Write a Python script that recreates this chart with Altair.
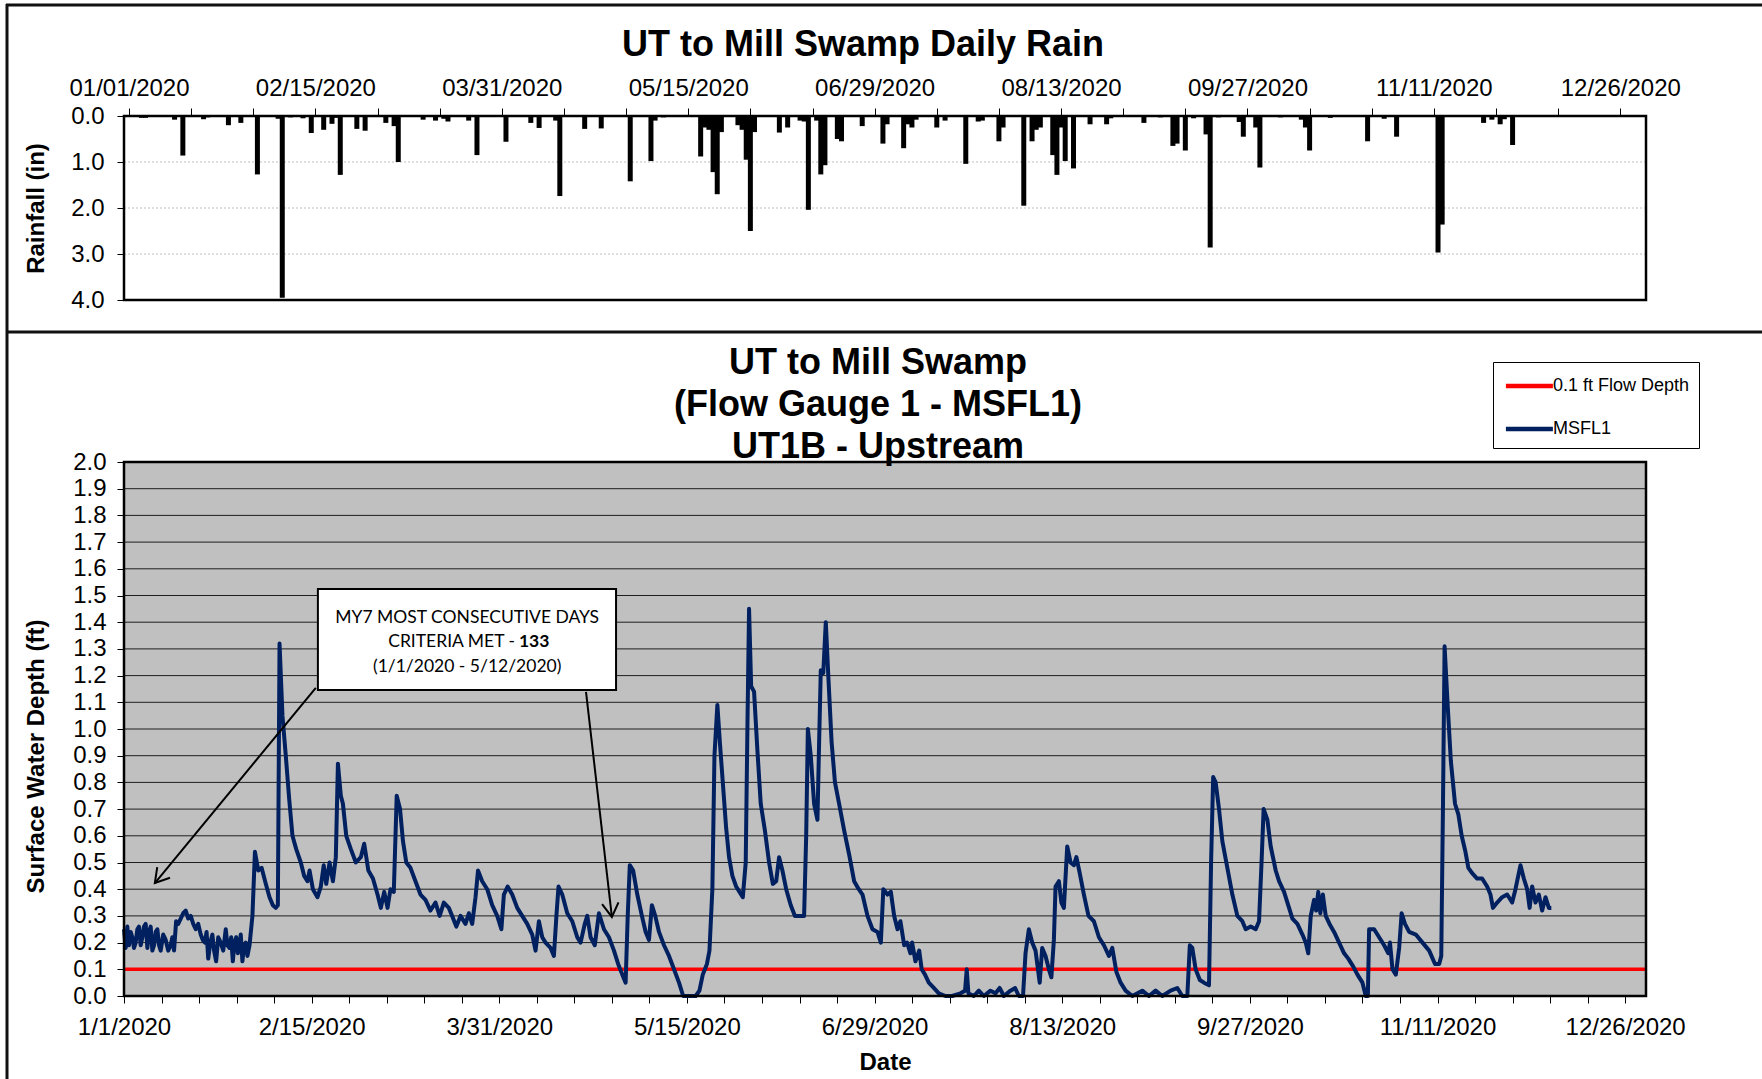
import altair as alt
import pandas as pd

# ---------------------------------------------------------------------------
# Data (x = day of 2020, 0 = Jan 1)
# ---------------------------------------------------------------------------
rain_day = [3, 4, 7, 11, 13, 18, 19, 24, 27, 31, 36, 37, 39, 42, 44, 47, 49, 50,
            51, 55, 57, 62, 64, 65, 71, 74, 76, 77, 82, 84, 91, 97, 99, 103, 104,
            110, 114, 121, 126, 127, 129, 138, 139, 140, 141, 142, 143, 147, 148,
            149, 150, 151, 157, 159, 162, 163, 164, 166, 167, 168, 171, 172, 177,
            182, 183, 187, 188, 189, 190, 195, 197, 202, 205, 206, 210, 211, 216,
            218, 219, 220, 223, 224, 225, 226, 228, 232, 236, 237, 245, 249, 252,
            253, 255, 257, 260, 261, 263, 268, 269, 272, 273, 278, 283, 284, 285,
            290, 299, 303, 306, 316, 317, 327, 329, 331, 332, 334]
rain_in = [0.04, 0.04, 0.02, 0.08, 0.86, 0.07, 0.03, 0.20, 0.15, 1.27, 0.06, 3.95,
           0.03, 0.05, 0.37, 0.30, 0.17, 0.04, 1.28, 0.28, 0.32, 0.15, 0.22, 1.00,
           0.08, 0.10, 0.06, 0.12, 0.10, 0.85, 0.56, 0.15, 0.26, 0.10, 1.74, 0.28,
           0.27, 1.42, 0.98, 0.10, 0.03, 0.88, 0.25, 0.30, 1.22, 1.70, 0.35, 0.20,
           0.30, 0.95, 2.50, 0.35, 0.36, 0.25, 0.10, 0.12, 2.04, 0.10, 1.27, 1.07,
           0.50, 0.55, 0.22, 0.60, 0.18, 0.70, 0.18, 0.25, 0.08, 0.25, 0.10, 1.04,
           0.12, 0.10, 0.55, 0.25, 1.95, 0.55, 0.30, 0.25, 0.85, 1.28, 0.25, 0.98,
           1.14, 0.18, 0.18, 0.05, 0.15, 0.03, 0.65, 0.60, 0.75, 0.05, 0.40, 2.86,
           0.03, 0.13, 0.45, 0.25, 1.12, 0.03, 0.08, 0.25, 0.75, 0.04, 0.55, 0.06,
           0.45, 2.97, 2.36, 0.15, 0.08, 0.18, 0.07, 0.63]

# MSFL1 surface water depth (ft)
depth_day = [
    # January - March
    0.0, 0.4, 0.8, 1.2, 1.6, 2.0, 2.4, 2.8, 3.2, 3.6, 4.0, 4.4, 4.8, 5.2, 5.6,
    6.0, 6.4, 6.8, 7.2, 7.6, 8.0, 8.4, 8.8, 9.4, 10.0, 10.6, 11.2, 11.6, 12.0,
    12.5, 13.0, 13.6, 14.2, 14.8, 15.4, 16.0, 16.6, 17.2, 17.8, 18.4, 18.9, 19.4,
    19.8, 20.2, 20.7, 21.2, 21.6, 22.1, 22.6, 23.2, 23.8, 24.4, 24.8, 25.3, 25.7,
    26.1, 26.5, 26.9, 27.3, 27.7, 28.0, 28.4, 28.8, 29.2, 29.6, 30.1, 30.8, 31.4,
    32.2, 33.0, 34.0, 34.9, 35.7, 36.4, 36.9, 37.3, 38.0, 38.8, 39.6, 40.4, 41.3,
    42.4, 43.2, 44.0, 44.5, 45.3, 46.4, 47.2, 47.9, 48.5, 49.3, 50.1, 50.8, 51.3,
    52.0, 52.5, 53.3, 54.4, 55.6, 56.8, 57.6, 58.6, 59.7, 60.8, 61.6, 62.4, 63.2,
    63.9, 64.7, 65.4, 66.2, 66.9, 67.7, 68.7, 69.9, 71.1, 72.3, 73.5, 74.7, 75.7,
    76.7, 77.9, 78.7, 79.7, 80.7, 81.9, 82.7, 83.5, 84.3, 84.9, 85.9, 87.1, 88.3,
    89.5, 90.5,
    # April - June
    91.1, 92.0, 93.1, 94.3, 95.5, 96.7, 97.9, 98.7, 99.5, 100.3, 101.1, 102.3,
    103.1, 103.7, 104.2, 105.1, 106.3, 107.5, 108.7, 109.5, 110.5, 111.1, 111.9,
    112.9, 113.9, 115.1, 116.3, 117.5, 118.5, 119.5, 120.3, 120.8, 121.3, 122.1,
    123.1, 124.2, 125.1, 125.9, 126.6, 127.4, 128.3, 129.5, 130.7, 131.9, 133.1,
    134.1, 135.5, 137.1, 138.0, 138.8, 139.8, 140.4, 141.1, 141.6, 142.3, 142.9,
    143.6, 144.4, 145.1, 145.9, 146.8, 147.6, 148.4, 149.1, 149.5, 149.9, 150.4,
    151.1, 151.9, 152.7, 153.7, 154.7, 155.6, 156.4, 157.1, 157.9, 158.8, 159.9,
    160.9, 161.9, 163.1, 163.6, 164.0, 164.7, 165.5, 166.3, 166.7, 167.1, 167.7,
    168.3, 168.9, 169.7, 170.5, 171.5, 172.7, 173.9, 175.1, 176.2, 177.1, 178.3,
    179.5, 180.7, 181.5,
    # July - September
    182.1, 183.1, 183.9, 184.7, 185.5, 186.2, 187.1, 187.8, 188.6, 189.0, 189.8,
    190.7, 191.3, 192.1, 193.0, 194.2, 195.4, 197.0, 198.6, 200.6, 201.7, 202.1,
    202.5, 203.8, 205.0, 206.2, 207.8, 209.0, 210.0, 211.0, 212.6, 213.7, 214.6,
    215.6, 216.2, 217.0, 217.8, 218.6, 219.6, 220.2, 221.0, 221.8, 222.4, 223.0,
    223.4, 224.2, 224.8, 225.4, 226.2, 227.0, 227.8, 228.4, 229.2, 230.2, 231.3,
    232.6, 233.8, 235.0, 236.2, 237.0, 238.0, 239.0, 240.2, 241.8, 244.2, 245.8,
    247.4, 249.0, 251.0, 252.6, 253.8, 255.0, 255.6, 256.2, 257.0, 258.0, 259.0,
    260.2, 260.7, 261.2, 261.8, 262.6, 263.4, 264.6, 265.8, 267.0, 268.2, 269.0,
    270.2, 271.4, 272.2, 272.8, 273.3,
    # October - December
    274.2, 275.0, 276.2, 277.0, 278.2, 279.4, 280.2, 281.4, 282.6, 283.4, 284.0,
    284.6, 285.4, 285.9, 286.4, 286.9, 287.5, 288.2, 289.1, 290.2, 291.4, 292.6,
    293.6, 294.8, 295.8, 297.0, 297.8, 298.3, 298.6, 299.8, 301.0, 302.2, 303.2,
    303.6, 304.2, 305.0, 305.8, 306.4, 307.2, 308.2, 309.8, 311.4, 313.0, 314.4,
    315.4, 315.9, 316.3, 316.7, 317.4, 318.2, 319.2, 320.0, 320.8, 321.7, 322.4,
    323.3, 324.5, 325.7, 326.9, 327.7, 328.3, 329.3, 330.5, 331.7, 332.9, 333.7,
    334.9, 335.7, 336.5, 337.1, 337.7, 338.5, 339.3, 340.1, 340.9, 341.7, 342.3,
]
depth_ft = [
    # January - March
    0.25, 0.18, 0.26, 0.19, 0.24, 0.22, 0.18, 0.20, 0.25, 0.26, 0.19, 0.22, 0.26,
    0.27, 0.18, 0.24, 0.26, 0.17, 0.19, 0.24, 0.25, 0.19, 0.17, 0.23, 0.21, 0.17,
    0.19, 0.22, 0.17, 0.28, 0.27, 0.29, 0.31, 0.32, 0.29, 0.30, 0.27, 0.25, 0.27,
    0.23, 0.21, 0.20, 0.24, 0.14, 0.20, 0.23, 0.17, 0.13, 0.22, 0.20, 0.17, 0.25,
    0.19, 0.18, 0.22, 0.13, 0.20, 0.22, 0.16, 0.19, 0.23, 0.13, 0.19, 0.20, 0.15,
    0.19, 0.30, 0.54, 0.47, 0.48, 0.42, 0.37, 0.34, 0.33, 0.34, 1.32, 1.05, 0.90,
    0.74, 0.60, 0.55, 0.50, 0.45, 0.43, 0.47, 0.40, 0.37, 0.41, 0.49, 0.42, 0.50,
    0.43, 0.52, 0.87, 0.75, 0.72, 0.60, 0.55, 0.50, 0.52, 0.57, 0.47, 0.44, 0.38,
    0.33, 0.39, 0.33, 0.40, 0.39, 0.75, 0.70, 0.58, 0.50, 0.48, 0.43, 0.38, 0.36,
    0.32, 0.35, 0.30, 0.35, 0.33, 0.30, 0.26, 0.30, 0.27, 0.31, 0.27, 0.37, 0.47,
    0.43, 0.40, 0.34, 0.30, 0.25,
    # April - June
    0.38, 0.41, 0.38, 0.33, 0.30, 0.27, 0.23, 0.17, 0.28, 0.22, 0.20, 0.18, 0.15,
    0.30, 0.41, 0.38, 0.31, 0.28, 0.22, 0.20, 0.27, 0.30, 0.22, 0.19, 0.31, 0.25,
    0.22, 0.17, 0.12, 0.08, 0.05, 0.30, 0.49, 0.47, 0.38, 0.30, 0.24, 0.21, 0.34,
    0.30, 0.24, 0.19, 0.15, 0.10, 0.05, 0.00, 0.00, 0.00, 0.02, 0.08, 0.12, 0.17,
    0.40, 0.90, 1.09, 0.95, 0.80, 0.63, 0.52, 0.45, 0.41, 0.39, 0.37, 0.50, 1.00,
    1.45, 1.16, 1.14, 0.92, 0.72, 0.62, 0.50, 0.42, 0.43, 0.52, 0.47, 0.40, 0.34,
    0.30, 0.30, 0.30, 0.60, 1.00, 0.90, 0.72, 0.66, 0.95, 1.22, 1.21, 1.40, 1.20,
    0.95, 0.80, 0.72, 0.62, 0.53, 0.43, 0.40, 0.38, 0.30, 0.25, 0.24, 0.20,
    # July - September
    0.40, 0.38, 0.39, 0.30, 0.25, 0.28, 0.19, 0.20, 0.16, 0.20, 0.13, 0.17, 0.10,
    0.08, 0.05, 0.03, 0.01, 0.00, 0.00, 0.01, 0.02, 0.10, 0.01, 0.00, 0.02, 0.00,
    0.02, 0.01, 0.03, 0.00, 0.02, 0.03, 0.00, 0.00, 0.16, 0.25, 0.20, 0.17, 0.05,
    0.18, 0.15, 0.10, 0.07, 0.21, 0.41, 0.43, 0.35, 0.33, 0.56, 0.50, 0.49, 0.52,
    0.46, 0.38, 0.30, 0.28, 0.22, 0.19, 0.15, 0.18, 0.09, 0.05, 0.02, 0.00, 0.02,
    0.00, 0.02, 0.00, 0.02, 0.03, 0.00, 0.00, 0.19, 0.18, 0.10, 0.06, 0.05, 0.04,
    0.50, 0.82, 0.80, 0.70, 0.58, 0.48, 0.38, 0.30, 0.28, 0.25, 0.26, 0.25, 0.28,
    0.50, 0.70,
    # October - December
    0.66, 0.56, 0.47, 0.43, 0.39, 0.33, 0.29, 0.27, 0.23, 0.20, 0.16, 0.30, 0.36,
    0.32, 0.39, 0.31, 0.38, 0.30, 0.27, 0.24, 0.20, 0.16, 0.14, 0.11, 0.08, 0.05,
    0.00, 0.00, 0.25, 0.25, 0.22, 0.19, 0.16, 0.20, 0.10, 0.08, 0.18, 0.31, 0.27,
    0.24, 0.23, 0.20, 0.17, 0.12, 0.12, 0.15, 0.70, 1.31, 1.10, 0.88, 0.72, 0.68,
    0.60, 0.54, 0.48, 0.46, 0.44, 0.44, 0.41, 0.38, 0.33, 0.35, 0.37, 0.38, 0.35,
    0.40, 0.49, 0.44, 0.40, 0.33, 0.41, 0.35, 0.38, 0.32, 0.37, 0.33, 0.33,
]

flow_threshold_ft = 0.1
series_names = ["0.1 ft Flow Depth", "MSFL1"]
series_colors = ["#FF0000", "#002060"]

x_domain = [0, 365]
rain_domain = [0, 4]
depth_domain = [0, 2]
rain_axis_values = [0, 1, 2, 3, 4]
rain_grid_values = [1, 2, 3]
depth_axis_values = [0.0, 0.1, 0.2, 0.3, 0.4, 0.5, 0.6, 0.7, 0.8, 0.9, 1.0,
                     1.1, 1.2, 1.3, 1.4, 1.5, 1.6, 1.7, 1.8, 1.9, 2.0]
depth_grid_values = depth_axis_values[1:-1]
top_tick_days = list(range(0, 361, 15))
bottom_tick_days = list(range(0, 361, 9))

rain_title = "UT to Mill Swamp Daily Rain"
depth_title = ["UT to Mill Swamp", "(Flow Gauge 1 - MSFL1)", "UT1B - Upstream"]
note_lines = ["MY7 MOST CONSECUTIVE DAYS", "CRITERIA MET - ", "133", "(1/1/2020 - 5/12/2020)"]

# ---------------------------------------------------------------------------
# Layout
# ---------------------------------------------------------------------------
W, H = 1522, 880
RAIN_H = 184
DEPTH_TOP = 346
FONT = "Liberation Sans"

x_scale = alt.Scale(domain=x_domain, nice=False, zero=False)
rain_y = alt.Scale(domain=rain_domain, range=[0, RAIN_H], nice=False, zero=False)
depth_y = alt.Scale(domain=depth_domain, range=[H, DEPTH_TOP], nice=False, zero=False)


def date_label(fmt):
    return ("datum.value % 45 == 0 ? timeFormat(datetime(2020, 0, 1 + datum.value), '"
            + fmt + "') : ''")


X_NONE = dict(scale=x_scale, axis=None)

# ---- rainfall panel -------------------------------------------------------
rain_df = pd.DataFrame({"day": rain_day, "rain": rain_in, "base": 0.0})
frame_rain = pd.DataFrame({"x0": [x_domain[0]], "x1": [x_domain[1]],
                           "y0": [rain_domain[0]], "y1": [rain_domain[1]]})
rain_grid_df = pd.DataFrame({"v": rain_grid_values, "x0": x_domain[0], "x1": x_domain[1]})

rain_grid = alt.Chart(rain_grid_df).mark_rule(
    color="#BDBDBD", strokeWidth=1, strokeDash=[2, 2]
).encode(
    x=alt.X("x0:Q", **X_NONE), x2="x1:Q",
    y=alt.Y("v:Q", scale=rain_y, axis=None),
)

rain_bars = alt.Chart(rain_df).mark_bar(color="black", size=5).encode(
    x=alt.X("day:Q", scale=x_scale, axis=alt.Axis(
        orient="top", values=top_tick_days, labelExpr=date_label("%m/%d/%Y"),
        tickSize=8, tickColor="black", labelPadding=8, labelFontSize=24,
        labelOverlap=False, labelFlush=False, domain=False, grid=False, title=None)),
    y=alt.Y("rain:Q", scale=rain_y, axis=alt.Axis(
        orient="left", values=rain_axis_values, format=".1f", tickSize=7,
        tickColor="black", labelPadding=13, labelFontSize=24, labelOverlap=False,
        domain=False, grid=False, title="Rainfall (in)", titleFontSize=24,
        titleFontWeight="bold", titleX=-88, titleY=92, titleAngle=270,
        titleAlign="center", titleBaseline="middle")),
    y2="base:Q",
)

rain_box = alt.Chart(frame_rain).mark_rect(
    fillOpacity=0, stroke="black", strokeWidth=2.5
).encode(
    x=alt.X("x0:Q", **X_NONE), x2="x1:Q",
    y=alt.Y("y0:Q", scale=rain_y, axis=None), y2="y1:Q",
)

# ---- depth panel ----------------------------------------------------------
frame_depth = pd.DataFrame({"x0": [x_domain[0]], "x1": [x_domain[1]],
                            "y0": [depth_domain[0]], "y1": [depth_domain[1]]})
depth_grid_df = pd.DataFrame({"v": depth_grid_values, "x0": x_domain[0], "x1": x_domain[1]})

depth_bg = alt.Chart(frame_depth).mark_rect(color="#C0C0C0").encode(
    x=alt.X("x0:Q", **X_NONE), x2="x1:Q",
    y=alt.Y("y0:Q", scale=depth_y, axis=None), y2="y1:Q",
)

depth_grid = alt.Chart(depth_grid_df).mark_rule(color="#1E1E1E", strokeWidth=1).encode(
    x=alt.X("x0:Q", **X_NONE), x2="x1:Q",
    y=alt.Y("v:Q", scale=depth_y, axis=None),
)

# legend swatch: a horizontal stroke twice as long as the symbol box
color_enc = alt.Color("series:N", scale=alt.Scale(domain=series_names, range=series_colors),
                      legend=alt.Legend(
                          title=None, orient="none", legendX=1369, legendY=246,
                          direction="vertical", symbolType="M-2,0H2", symbolSize=552,
                          symbolStrokeWidth=4.5, symbolOffset=12.4, labelOffset=9.5,
                          labelFontSize=18, labelFont=FONT, labelColor="black",
                          fillColor="white", strokeColor="black", padding=10,
                          rowPadding=20, cornerRadius=0))

threshold_df = pd.DataFrame({"series": series_names[0], "day": x_domain,
                             "ft": [flow_threshold_ft, flow_threshold_ft]})
gauge_df = pd.DataFrame({"series": series_names[1], "day": depth_day, "ft": depth_ft})

threshold_line = alt.Chart(threshold_df).mark_line(strokeWidth=3.5).encode(
    x=alt.X("day:Q", **X_NONE),
    y=alt.Y("ft:Q", scale=depth_y, axis=None),
    color=color_enc,
)

gauge_line = alt.Chart(gauge_df).mark_line(strokeWidth=4, strokeJoin="round").encode(
    x=alt.X("day:Q", scale=x_scale, axis=alt.Axis(
        orient="bottom", values=bottom_tick_days, labelExpr=date_label("%-m/%-d/%Y"),
        tickSize=7, tickColor="black", labelPadding=12, labelFontSize=24,
        labelOverlap=False, labelFlush=False, domain=False, grid=False,
        title="Date", titleFontSize=24, titleFontWeight="bold",
        titleY=73, titleBaseline="alphabetic")),
    y=alt.Y("ft:Q", scale=depth_y, axis=alt.Axis(
        orient="left", values=depth_axis_values, format=".1f", tickSize=7,
        tickColor="black", labelPadding=11, labelFontSize=24, labelOverlap=False,
        domain=False, grid=False, title="Surface Water Depth (ft)", titleFontSize=24,
        titleFontWeight="bold", titleX=-88, titleY=640, titleAngle=270,
        titleAlign="center", titleBaseline="middle")),
    color=color_enc,
    order=alt.Order("day:Q"),
)

depth_box = alt.Chart(frame_depth).mark_rect(
    fillOpacity=0, stroke="black", strokeWidth=2.5
).encode(
    x=alt.X("x0:Q", **X_NONE), x2="x1:Q",
    y=alt.Y("y0:Q", scale=depth_y, axis=None), y2="y1:Q",
)

# ---- callout --------------------------------------------------------------
note_box_df = pd.DataFrame({"x0": [46.5], "x1": [118.0], "y0": [1.146], "y1": [1.524]})
note_box = alt.Chart(note_box_df).mark_rect(
    fill="white", stroke="black", strokeWidth=2
).encode(
    x=alt.X("x0:Q", **X_NONE), x2="x1:Q",
    y=alt.Y("y0:Q", scale=depth_y, axis=None), y2="y1:Q",
)

note_text_df = pd.DataFrame({
    "t": note_lines,
    "x": [82.3, 94.0, 94.0, 82.3],
    "y": [1.415, 1.325, 1.325, 1.232],
    "align": ["center", "right", "left", "center"],
    "weight": ["normal", "normal", "bold", "normal"],
    "dx": [0, -1, 3, 0],
})
note_text = []
for i, row in note_text_df.iterrows():
    note_text.append(
        alt.Chart(note_text_df.iloc[[i]]).mark_text(
            font="Lato", fontSize=17.5, color="black", align=row["align"],
            baseline="middle", fontWeight=row["weight"], dx=int(row["dx"]),
        ).encode(
            x=alt.X("x:Q", **X_NONE),
            y=alt.Y("y:Q", scale=depth_y, axis=None),
            text="t:N",
        )
    )

arrow_df = pd.DataFrame({
    "x0": [46.0, 110.8], "y0": [1.154, 1.139],
    "x1": [7.4, 117.0], "y1": [0.423, 0.296],
    "angle": [129.5, 83.4],
})
arrow_shafts = alt.Chart(arrow_df).mark_rule(color="black", strokeWidth=2).encode(
    x=alt.X("x0:Q", **X_NONE), x2="x1:Q",
    y=alt.Y("y0:Q", scale=depth_y, axis=None), y2="y1:Q",
)
arrow_heads = alt.Chart(arrow_df).mark_point(
    shape="M-1,-0.6L0,0L-1,0.6", size=760, filled=False, color="black",
    strokeWidth=2, opacity=1,
).encode(
    x=alt.X("x1:Q", **X_NONE),
    y=alt.Y("y1:Q", scale=depth_y, axis=None),
    angle=alt.Angle("angle:Q", scale=None),
)

# ---- titles and page frame -------------------------------------------------
one = pd.DataFrame({"k": [0]})
title_rain = alt.Chart(one).mark_text(
    text=rain_title, font=FONT, fontSize=36, fontWeight="bold", color="black",
    align="center", baseline="alphabetic",
).encode(x=alt.value(739), y=alt.value(-60))

title_depth = alt.Chart(one).mark_text(
    text=depth_title, font=FONT, fontSize=36, fontWeight="bold", color="black",
    align="center", baseline="alphabetic", lineHeight=42,
).encode(x=alt.value(754), y=alt.value(257.5))

frame_top = alt.Chart(one).mark_rule(color="#111111", strokeWidth=3).encode(
    x=alt.value(-118), x2=alt.value(1640), y=alt.value(-111))
frame_mid = alt.Chart(one).mark_rule(color="#111111", strokeWidth=3).encode(
    x=alt.value(-118), x2=alt.value(1640), y=alt.value(216))
frame_left = alt.Chart(one).mark_rule(color="#111111", strokeWidth=3).encode(
    x=alt.value(-117), y=alt.value(-112), y2=alt.value(966))

chart = alt.layer(
    frame_top, frame_mid, frame_left,
    rain_grid, rain_bars, rain_box,
    depth_bg, depth_grid, threshold_line, gauge_line, depth_box,
    note_box, *note_text, arrow_shafts, arrow_heads,
    title_rain, title_depth,
).resolve_scale(
    x="independent", y="independent"
).properties(
    width=W, height=H,
    autosize=alt.AutoSizeParams(type="none"),
    padding={"left": 124, "top": 116, "right": 116, "bottom": 83},
).configure_view(
    stroke=None
).configure_axis(
    labelFont=FONT, titleFont=FONT, labelColor="black", titleColor="black"
)

chart.save("out.html", embed_options={"renderer": "svg", "actions": False})
